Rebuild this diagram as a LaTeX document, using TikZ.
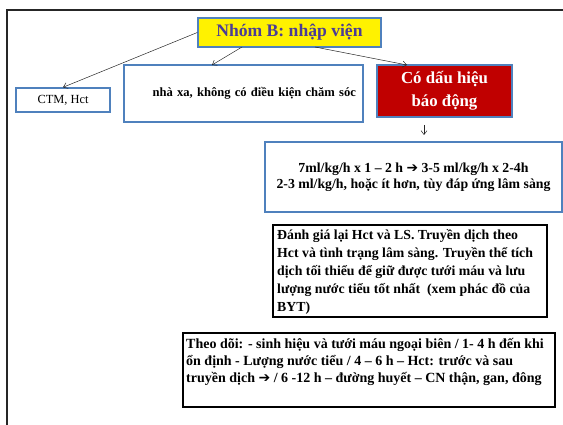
\documentclass[tikz,border=0pt]{standalone}
\usepackage{fontspec}
\setmainfont{Liberation Serif}
\newfontfamily\symfont{DejaVu Sans}
\usetikzlibrary{arrows.meta}
\definecolor{bblue}{HTML}{4F81BD}
\definecolor{ttl}{HTML}{4B3C96}
\definecolor{dred}{HTML}{C00000}
\newcommand{\harr}{{\symfont\char"2794}}
\begin{document}
\begin{tikzpicture}[x=1pt,y=-1pt,
  bluebox/.style={draw=bblue,line width=1.4pt,inner sep=0pt},
  blackbox/.style={draw=black,line width=1.6pt,inner sep=0pt},
  conn/.style={draw=black!85,line width=0.5pt,-{Straight Barb[length=4pt,width=6pt]}}]
\useasboundingbox (0,0) rectangle (563,425);
\begin{scope}
\clip (0,0) rectangle (563,425);
\draw[line width=1.8pt,black!85] (7,10) rectangle (580,440);
\end{scope}
\node[bluebox,fill=yellow,minimum width=183pt,minimum height=29pt,
  font=\fontsize{17.6}{20}\selectfont\bfseries,text=ttl] (title) at (289.5,32.5) {Nhóm B: nhập viện};
\node[bluebox,minimum width=94pt,minimum height=24pt,font=\fontsize{12.4}{14}\selectfont] (ctm) at (63,100) {CTM, Hct};
\node[bluebox,minimum width=239pt,minimum height=57pt,text width=225pt,align=right,
  font=\fontsize{12.6}{14}\selectfont\bfseries] (nha) at (243.5,93.5) {nhà xa, không có điều kiện chăm sóc};
\node[bluebox,fill=dred,text=white,minimum width=135pt,minimum height=52pt,align=center,
  font=\fontsize{16.8}{23}\selectfont\bfseries] (red) at (444.5,91) {Có dấu hiệu\\báo động};
\node[bluebox,minimum width=297pt,minimum height=70pt,align=center,
  font=\fontsize{13.8}{16}\selectfont\bfseries] (ml) at (413.5,177) {7ml/kg/h x 1 – 2 h \harr{} 3-5 ml/kg/h x 2-4h\\2-3 ml/kg/h, hoặc ít hơn, tùy đáp ứng lâm sàng};
\node[blackbox,minimum width=274pt,minimum height=92pt] (dg) at (410,271) {};
\node[anchor=north west,inner sep=0pt,align=left,
  font=\fontsize{13.8}{18}\selectfont\bfseries] (dgt) at (277,229.5) {Đánh giá lại Hct và LS. Truyền dịch theo\\Hct và tình trạng lâm sàng. Truyền thể tích\\dịch tối thiểu để giữ được tưới máu và lưu\\lượng nước tiểu tốt nhất~ (xem phác đồ của\\BYT)};
\node[blackbox,minimum width=372pt,minimum height=74pt] (td) at (369,370) {};
\node[anchor=north west,inner sep=0pt,align=left,
  font=\fontsize{14}{17}\selectfont\bfseries] (tdt) at (186,338) {Theo dõi: - sinh hiệu và tưới máu ngoại biên / 1- 4 h đến khi\\ổn định - Lượng nước tiểu / 4 – 6 h – Hct: trước và sau\\truyền dịch \harr{} / 6 -12 h – đường huyết – CN thận, gan, đông};
\coordinate (rs) at (424,125);
\coordinate (re) at (424,135);
\draw[conn] (title.west) -- (ctm.north);
\draw[conn] (242,47) -- (212,65);
\draw[conn] (315,47) -- (407,65);
\draw[conn] (rs) -- (re);
\end{tikzpicture}
\end{document}
